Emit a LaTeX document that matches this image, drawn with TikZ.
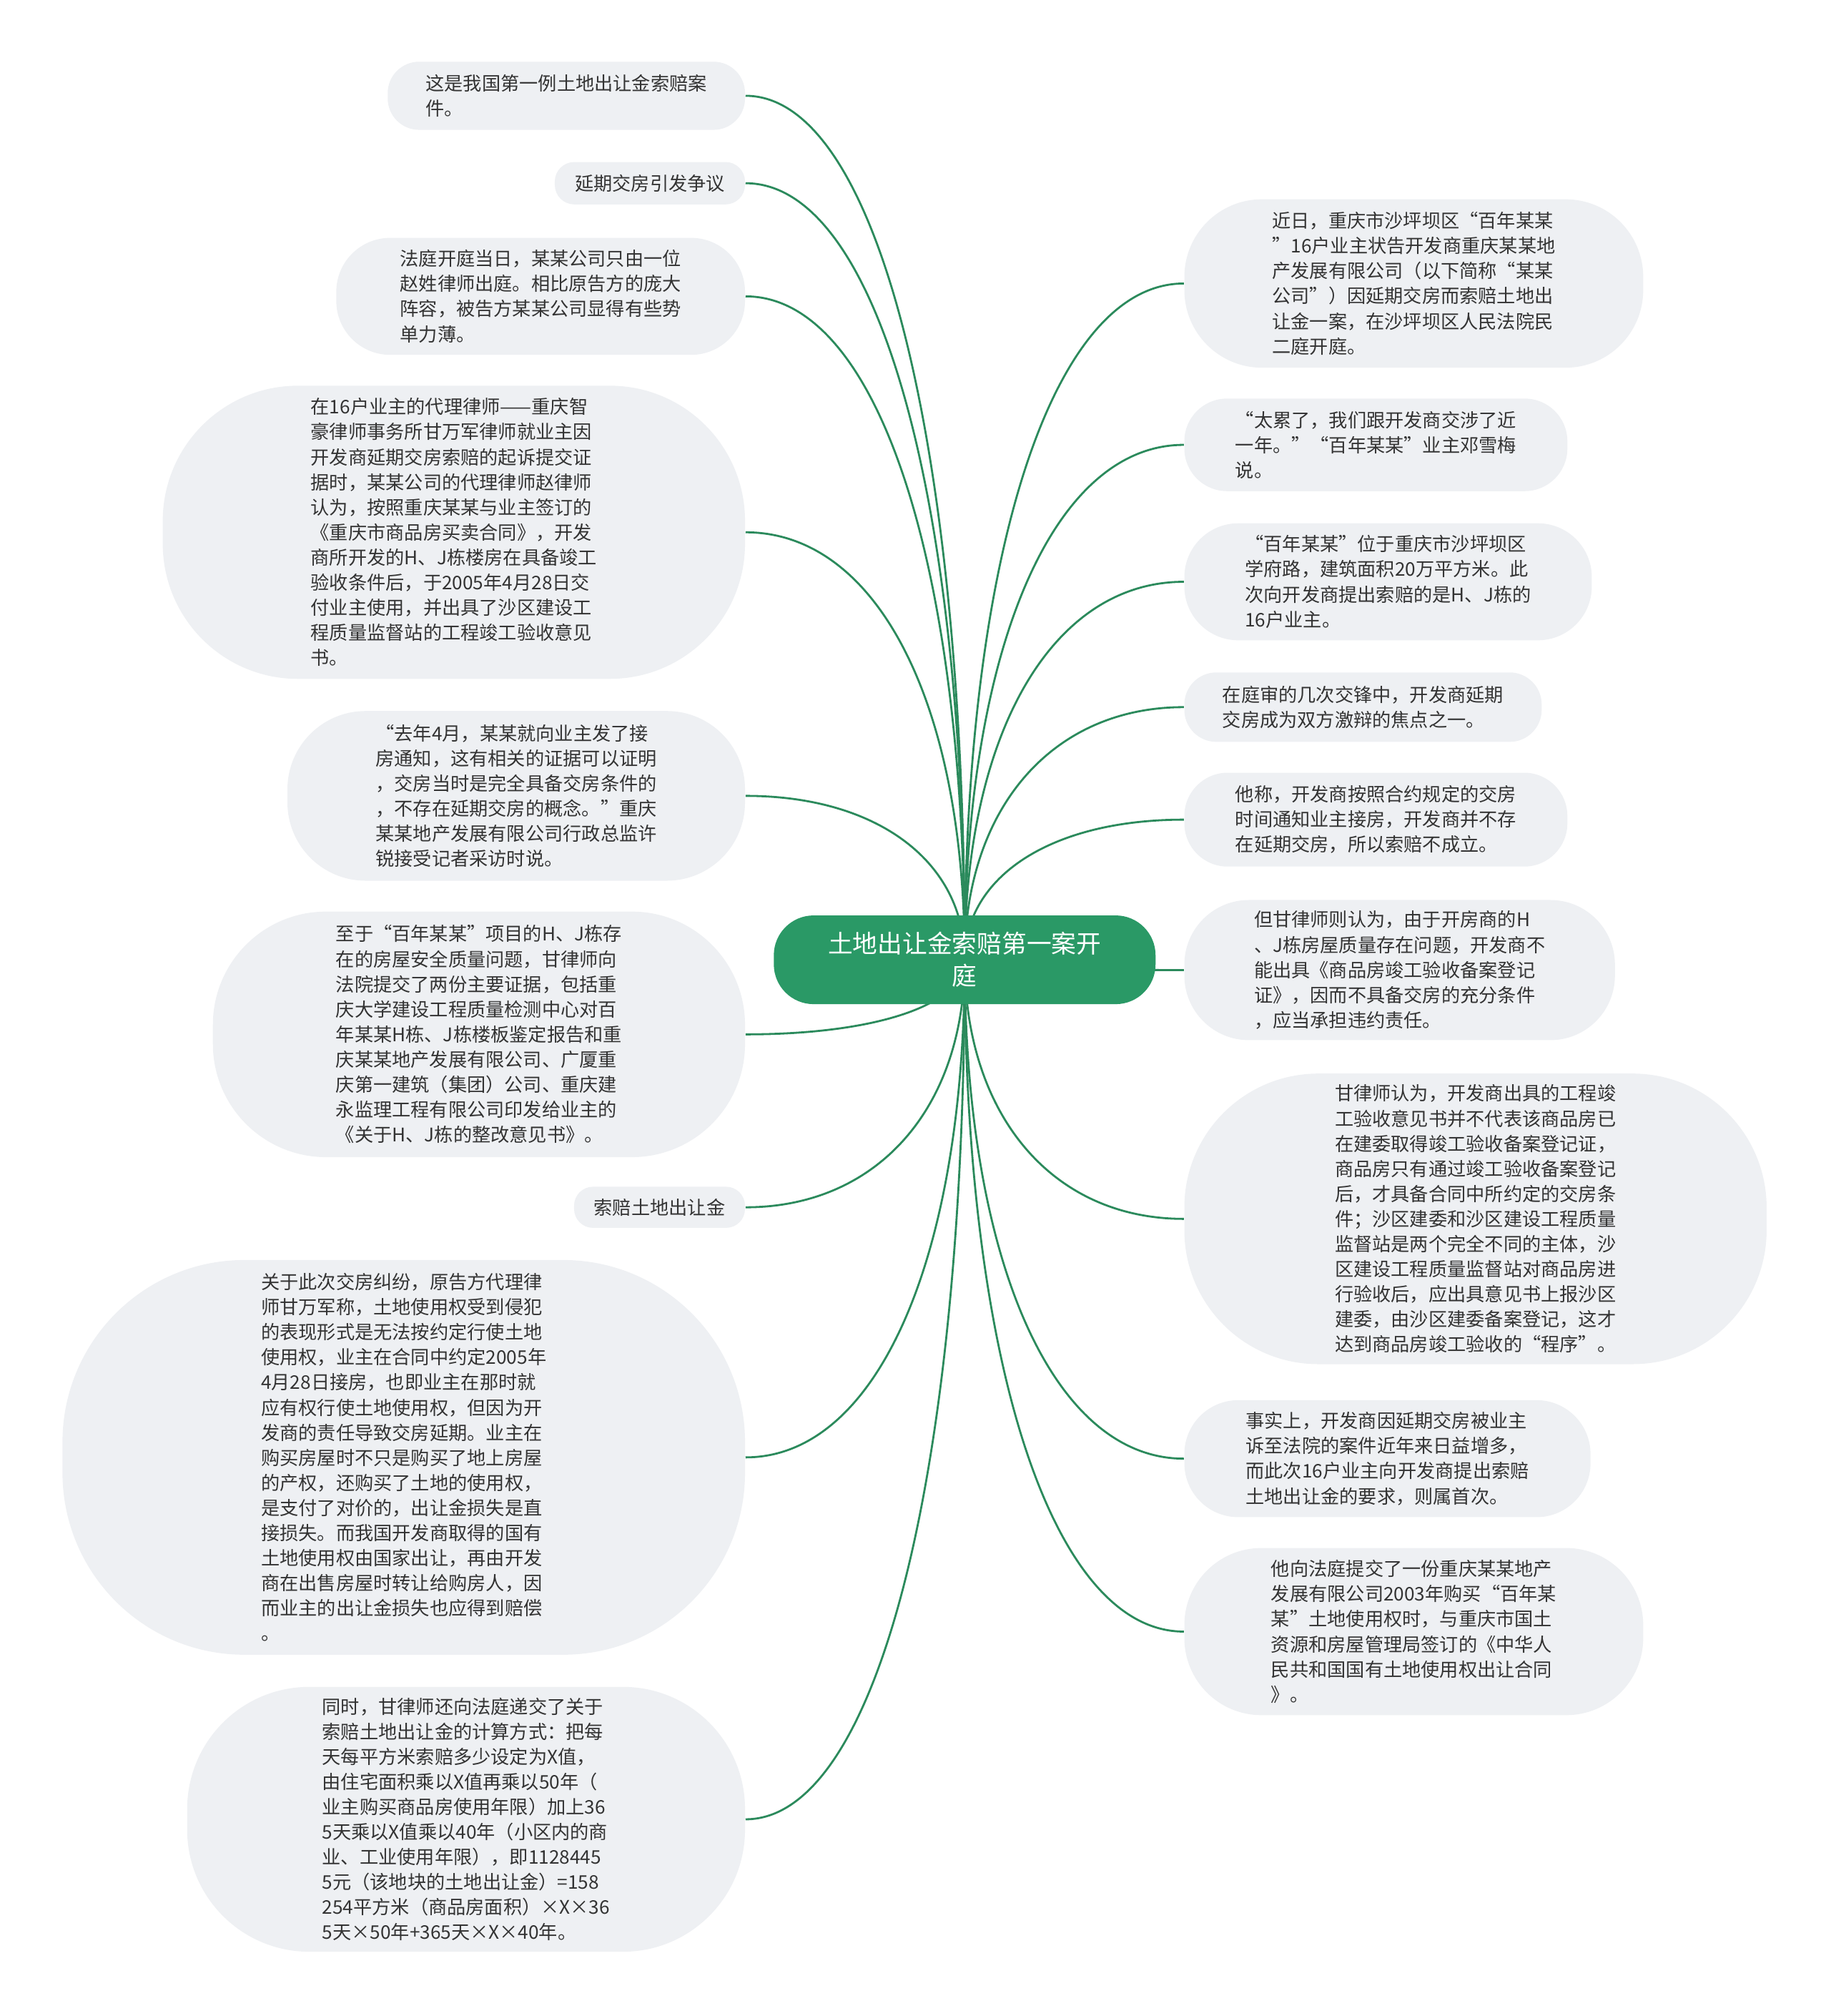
\documentclass[tikz,border=0pt]{standalone}
\usepackage{fontspec}
\setmainfont{Noto Sans CJK SC}
\usetikzlibrary{calc,backgrounds}
\definecolor{rootgreen}{HTML}{2A9966}
\definecolor{linkgreen}{HTML}{2B8A5C}
\definecolor{topicgray}{HTML}{EEF0F3}
\definecolor{inkgray}{HTML}{333333}

\begin{document}
\begin{tikzpicture}[x=0.018cm,y=-0.018cm]
\tikzset{topic/.style 2 args={fill=topicgray,text=inkgray,align=left,inner sep=0pt,
         font=\fontsize{7.47pt}{10pt}\selectfont,
         minimum width=#1*0.018cm,minimum height=#2*0.018cm,rounded corners=#2*0.0083cm}}
\tikzset{root/.style={fill=rootgreen,text=white,align=center,inner sep=0pt,
         font=\fontsize{9.9pt}{12.8pt}\selectfont,
         minimum width=297*0.018cm,minimum height=69*0.018cm,rounded corners=31*0.018cm}}
\tikzset{branch/.style={draw=linkgreen,line width=0.8pt}}

\useasboundingbox (0,0) rectangle (1424,1568);

\node[root] (root) at (750.5,746.5) {土地出让金索赔第一案开\\庭};

% left side
\node[topic={278}{53},anchor=east] (l1) at (580,74.5) {这是我国第一例土地出让金索赔案\\件。};
\node[topic={148}{33},anchor=east] (l2) at (580,142.5) {延期交房引发争议};
\node[topic={318}{91},anchor=east] (l3) at (580,230.5) {法庭开庭当日，某某公司只由一位\\赵姓律师出庭。相比原告方的庞大\\阵容，被告方某某公司显得有些势\\单力薄。};
\node[topic={453}{228},anchor=east] (l4) at (580,414) {在16户业主的代理律师——重庆智\\豪律师事务所甘万军律师就业主因\\开发商延期交房索赔的起诉提交证\\据时，某某公司的代理律师赵律师\\认为，按照重庆某某与业主签订的\\《重庆市商品房买卖合同》，开发\\商所开发的H、J栋楼房在具备竣工\\验收条件后，于2005年4月28日交\\付业主使用，并出具了沙区建设工\\程质量监督站的工程竣工验收意见\\书。};
\node[topic={356}{132},anchor=east] (l5) at (580,619) {“去年4月，某某就向业主发了接\\房通知，这有相关的证据可以证明\\，交房当时是完全具备交房条件的\\，不存在延期交房的概念。”重庆\\某某地产发展有限公司行政总监许\\锐接受记者采访时说。};
\node[topic={414}{191},anchor=east] (l6) at (580,804.5) {至于“百年某某”项目的H、J栋存\\在的房屋安全质量问题，甘律师向\\法院提交了两份主要证据，包括重\\庆大学建设工程质量检测中心对百\\年某某H栋、J栋楼板鉴定报告和重\\庆某某地产发展有限公司、广厦重\\庆第一建筑（集团）公司、重庆建\\永监理工程有限公司印发给业主的\\《关于H、J栋的整改意见书》。};
\node[topic={133}{32},anchor=east] (l7) at (580,939) {索赔土地出让金};
\node[topic={531}{307},anchor=east] (l8) at (580,1133.5) {关于此次交房纠纷，原告方代理律\\师甘万军称，土地使用权受到侵犯\\的表现形式是无法按约定行使土地\\使用权，业主在合同中约定2005年\\4月28日接房，也即业主在那时就\\应有权行使土地使用权，但因为开\\发商的责任导致交房延期。业主在\\购买房屋时不只是购买了地上房屋\\的产权，还购买了土地的使用权，\\是支付了对价的，出让金损失是直\\接损失。而我国开发商取得的国有\\土地使用权由国家出让，再由开发\\商在出售房屋时转让给购房人，因\\而业主的出让金损失也应得到赔偿\\。};
\node[topic={434}{206},anchor=east] (l9) at (580,1415) {同时，甘律师还向法庭递交了关于\\索赔土地出让金的计算方式：把每\\天每平方米索赔多少设定为X值，\\由住宅面积乘以X值再乘以50年（\\业主购买商品房使用年限）加上36\\5天乘以X值乘以40年（小区内的商\\业、工业使用年限），即1128445\\5元（该地块的土地出让金）=158\\254平方米（商品房面积）×X×36\\5天×50年+365天×X×40年。};

% right side
\node[topic={357}{131},anchor=west] (r1) at (921,220.5) {近日，重庆市沙坪坝区“百年某某\\”16户业主状告开发商重庆某某地\\产发展有限公司（以下简称“某某\\公司”）因延期交房而索赔土地出\\让金一案，在沙坪坝区人民法院民\\二庭开庭。};
\node[topic={298}{72},anchor=west] (r2) at (921,346) {“太累了，我们跟开发商交涉了近\\一年。”“百年某某”业主邓雪梅\\说。};
\node[topic={317}{91},anchor=west] (r3) at (921,452.5) {“百年某某”位于重庆市沙坪坝区\\学府路，建筑面积20万平方米。此\\次向开发商提出索赔的是H、J栋的\\16户业主。};
\node[topic={278}{54},anchor=west] (r4) at (921,550) {在庭审的几次交锋中，开发商延期\\交房成为双方激辩的焦点之一。};
\node[topic={298}{73},anchor=west] (r5) at (921,637.5) {他称，开发商按照合约规定的交房\\时间通知业主接房，开发商并不存\\在延期交房，所以索赔不成立。};
\node[topic={335}{109},anchor=west] (r6) at (921,754.5) {但甘律师则认为，由于开房商的H\\、J栋房屋质量存在问题，开发商不\\能出具《商品房竣工验收备案登记\\证》，因而不具备交房的充分条件\\，应当承担违约责任。};
\node[topic={453}{226},anchor=west] (r7) at (921,948) {甘律师认为，开发商出具的工程竣\\工验收意见书并不代表该商品房已\\在建委取得竣工验收备案登记证，\\商品房只有通过竣工验收备案登记\\后，才具备合同中所约定的交房条\\件；沙区建委和沙区建设工程质量\\监督站是两个完全不同的主体，沙\\区建设工程质量监督站对商品房进\\行验收后，应出具意见书上报沙区\\建委，由沙区建委备案登记，这才\\达到商品房竣工验收的“程序”。};
\node[topic={316}{91},anchor=west] (r8) at (921,1134.5) {事实上，开发商因延期交房被业主\\诉至法院的案件近年来日益增多，\\而此次16户业主向开发商提出索赔\\土地出让金的要求，则属首次。};
\node[topic={357}{130},anchor=west] (r9) at (921,1269) {他向法庭提交了一份重庆某某地产\\发展有限公司2003年购买“百年某\\某”土地使用权时，与重庆市国土\\资源和房屋管理局签订的《中华人\\民共和国国有土地使用权出让合同\\》。};

% branches, behind the nodes
\begin{pgfonlayer}{background}
\foreach \i in {1,...,9}{
  \draw[branch] (root.center) .. controls ($(root.center)!0.6!(root.center |- l\i.east)$)
    and ($(l\i.east)!0.6!(root.center |- l\i.east)$) .. (l\i.east);
  \draw[branch] (root.center) .. controls ($(root.center)!0.6!(root.center |- r\i.west)$)
    and ($(r\i.west)!0.6!(root.center |- r\i.west)$) .. (r\i.west);
}
\end{pgfonlayer}
\end{tikzpicture}
\end{document}
